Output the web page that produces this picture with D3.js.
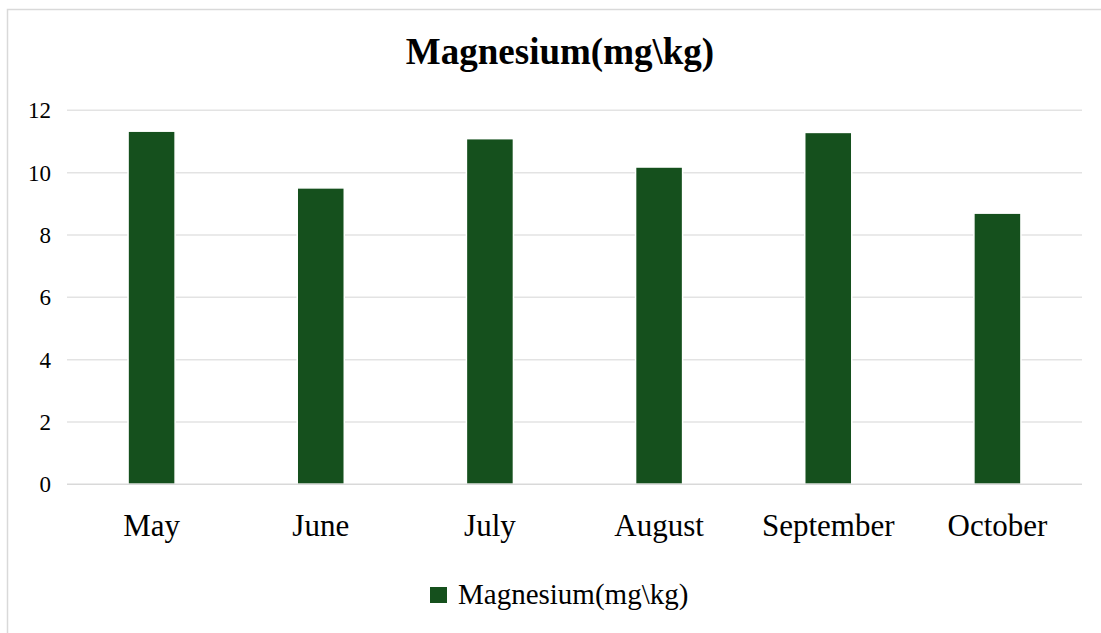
<!DOCTYPE html>
<html lang="en">
<meta charset="utf-8">
<head>
    <script src="https://d3js.org/d3.v7.min.js"></script>
    <style>
        body { margin: 0; background: #fff; }
        text { font-family: "Liberation Serif", "Times New Roman", serif; fill: #000; }
    </style>
</head>
<body>
<div id="chart"></div>
<script>
// data
const months = ['May', 'June', 'July', 'August', 'September', 'October'];
const magnesium = [11.33, 9.51, 11.09, 10.18, 11.29, 8.70];
const yTicks = [0, 2, 4, 6, 8, 10, 12];
const seriesName = 'Magnesium(mg\\kg)';

const width = 1101, height = 633;
const plot = { left: 67, right: 1082, top: 110.3, bottom: 484.3 };

const svg = d3.select('#chart').append('svg')
    .attr('width', width)
    .attr('height', height);

// chart area border
svg.append('rect')
    .attr('x', 7.5).attr('y', 9.5)
    .attr('width', width).attr('height', height)
    .attr('fill', 'none')
    .attr('stroke', '#d9d9d9')
    .attr('stroke-width', 1.5);

// title
svg.append('text')
    .attr('x', 560).attr('y', 64)
    .attr('text-anchor', 'middle')
    .style('font-size', '37px')
    .style('font-weight', 'bold')
    .text(seriesName);

const x = d3.scaleBand()
    .domain(months)
    .range([plot.left, plot.right])
    .paddingInner(0.722)
    .paddingOuter(0.361);

const y = d3.scaleLinear()
    .domain([0, 12])
    .range([plot.bottom, plot.top]);

// gridlines
svg.append('g')
    .selectAll('line')
    .data(yTicks.filter(d => d > 0))
    .join('line')
    .attr('x1', plot.left).attr('x2', plot.right)
    .attr('y1', d => y(d)).attr('y2', d => y(d))
    .attr('stroke', '#e3e3e3')
    .attr('stroke-width', 1.5);

// y axis labels
const yAxis = svg.append('g')
    .attr('transform', 'translate(' + (plot.left - 16) + ',0)')
    .call(d3.axisLeft(y).tickValues(yTicks).tickSize(0).tickPadding(0));
yAxis.select('.domain').remove();
yAxis.selectAll('text')
    .style('font-family', '"Liberation Serif", serif')
    .style('font-size', '23px')
    .attr('fill', '#000');

// bars
svg.append('g')
    .selectAll('rect')
    .data(months)
    .join('rect')
    .attr('x', d => x(d))
    .attr('y', (d, i) => y(magnesium[i]))
    .attr('width', x.bandwidth())
    .attr('height', (d, i) => y(0) - y(magnesium[i]))
    .attr('fill', '#15501d')
    .attr('stroke', '#fff')
    .attr('stroke-width', 1.5);

// baseline
svg.append('line')
    .attr('x1', plot.left).attr('x2', plot.right)
    .attr('y1', y(0)).attr('y2', y(0))
    .attr('stroke', '#d9d9d9')
    .attr('stroke-width', 1.5);

// x axis labels
const xAxis = svg.append('g')
    .attr('transform', 'translate(0,' + y(0) + ')')
    .call(d3.axisBottom(x).tickSize(0).tickPadding(0));
xAxis.select('.domain').remove();
xAxis.selectAll('text')
    .attr('dy', null)
    .attr('y', 52)
    .style('font-family', '"Liberation Serif", serif')
    .style('font-size', '31px')
    .attr('fill', '#000');

// legend
const legend = svg.append('g');
legend.append('rect')
    .attr('x', 430).attr('y', 587)
    .attr('width', 17).attr('height', 16)
    .attr('fill', '#15501d');
legend.append('text')
    .attr('x', 458).attr('y', 604)
    .style('font-size', '29px')
    .text(seriesName);
</script>
</body>
</html>
